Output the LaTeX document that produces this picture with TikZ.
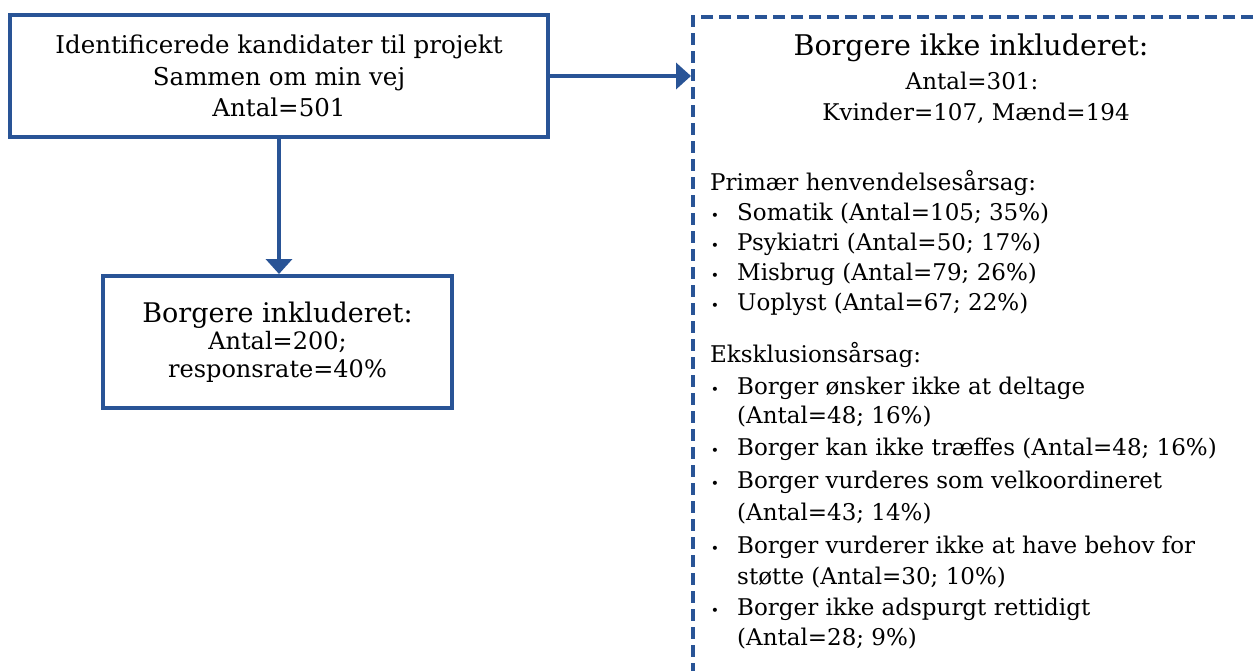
\documentclass[tikz,border=0pt]{standalone}
\usepackage{fontspec}
\setmainfont{DejaVu Serif}
\usetikzlibrary{arrows.meta}
\definecolor{frameblue}{RGB}{41,84,150}
\begin{document}
\begin{tikzpicture}[x=1pt,y=-1pt,
  solidbox/.style={draw=frameblue, line width=4pt, fill=white, inner sep=0pt, align=center},
  dashbox/.style={draw=frameblue, line width=4pt, dash pattern=on 12pt off 6pt, inner sep=0pt},
  link/.style={draw=frameblue, line width=4pt, -{Triangle[length=15pt,width=26pt]}},
  listtext/.style={font=\fontsize{23}{31}\selectfont, anchor=base west, inner sep=0pt},
  titletext/.style={font=\fontsize{28.5}{31}\selectfont, anchor=base, inner sep=0pt},
  centretext/.style={font=\fontsize{23}{31}\selectfont, anchor=base, inner sep=0pt},
  dot/.style={font=\fontsize{14}{31}\selectfont, anchor=base, inner sep=0pt}]
\useasboundingbox (0,0) rectangle (1258,670);
\clip (0,0) rectangle (1258,670);

% candidates box
\node[solidbox, font=\fontsize{24.5}{31.5}\selectfont, minimum width=538pt, minimum height=122pt] (cand) at (279,76)
  {Identificerede kandidater til projekt\\Sammen om min vej\\Antal=501};

% included citizens
\node[solidbox, font=\fontsize{24}{27.5}\selectfont, minimum width=349pt, minimum height=132pt] (incl) at (277.5,342)
  {{\fontsize{27}{27.5}\selectfont Borgere inkluderet:}\\
   Antal=200;\\
   responsrate=40\%};

% not included citizens (frame runs past the page edge)
\node[dashbox, anchor=north west, minimum width=640pt, minimum height=720pt] (excl) at (691,15) {};

\node[titletext] (exT) at (971,55) {Borgere ikke inkluderet:};
\node[centretext] (exA) at (972,89) {Antal=301:};
\node[centretext] (exK) at (976,120) {Kvinder=107, Mænd=194};

\node[listtext] (hdP) at (710,190) {Primær henvendelsesårsag:};
\foreach \yy/\txt [count=\i] in {220/{Somatik (Antal=105; 35\%)},
                                 250/{Psykiatri (Antal=50; 17\%)},
                                 280/{Misbrug (Antal=79; 26\%)},
                                 310/{Uoplyst (Antal=67; 22\%)}}{
  \node[dot] (pd\i) at (715,\yy) {•};
  \node[listtext] (pt\i) at (737,\yy) {\txt};
}

\node[listtext] (hdE) at (710,362) {Eksklusionsårsag:};
\foreach \yy/\txt [count=\i] in {394/{Borger ønsker ikke at deltage},
                                 455/{Borger kan ikke træffes (Antal=48; 16\%)},
                                 488/{Borger vurderes som velkoordineret},
                                 553/{Borger vurderer ikke at have behov for},
                                 615/{Borger ikke adspurgt rettidigt}}{
  \node[dot] (ed\i) at (715,\yy) {•};
  \node[listtext] (et\i) at (737,\yy) {\txt};
}
\foreach \yy/\txt [count=\i] in {423/{(Antal=48; 16\%)},
                                 520/{(Antal=43; 14\%)},
                                 584/{støtte (Antal=30; 10\%)},
                                 645/{(Antal=28; 9\%)}}{
  \node[listtext] (ec\i) at (737,\yy) {\txt};
}

% connectors
\draw[link] (cand.east) -- (cand.east -| excl.west);
\draw[link] (cand.south) -- (cand.south |- incl.north);
\end{tikzpicture}
\end{document}
